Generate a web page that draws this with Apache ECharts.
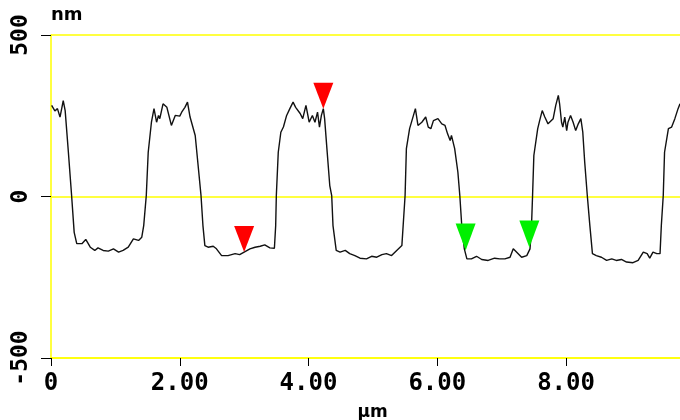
<!DOCTYPE html>
<html>
<head>
<meta charset="utf-8">
<script src="https://cdn.jsdelivr.net/npm/echarts@6/dist/echarts.min.js"></script>
<style>html,body{margin:0;padding:0;background:#fff}#c{width:680px;height:420px}</style>
</head>
<body>
<div id="c"></div>
<script>
// Profile position (µm) and height (nm)
const profileX = [0.01,0.06,0.10,0.14,0.17,0.19,0.22,0.27,0.32,0.36,0.40,0.48,0.54,0.61,0.68,0.73,0.81,0.89,0.97,1.05,1.12,1.20,1.28,1.36,1.41,1.44,1.48,1.51,1.56,1.60,1.64,1.67,1.69,1.74,1.80,1.87,1.93,2.00,
  2.03,2.08,2.12,2.16,2.19,2.24,2.29,2.33,2.36,2.39,2.44,2.52,2.57,2.65,2.75,2.86,2.93,3.00,3.09,3.17,3.25,3.32,3.40,3.47,3.49,3.50,3.53,3.57,3.61,3.66,3.71,3.76,3.80,3.87,3.91,3.96,
  4.01,4.06,4.10,4.14,4.17,4.20,4.23,4.25,4.29,4.33,4.36,4.38,4.43,4.49,4.57,4.64,4.72,4.80,4.90,4.98,5.06,5.14,5.21,5.29,5.37,5.45,5.47,5.50,5.52,5.57,5.63,5.66,5.70,5.76,5.82,5.86,5.90,5.94,
  6.01,6.07,6.12,6.16,6.20,6.22,6.27,6.32,6.35,6.38,6.42,6.46,6.53,6.61,6.69,6.79,6.89,6.97,7.05,7.13,7.18,7.23,7.31,7.39,7.44,7.46,7.48,7.50,7.56,7.59,7.63,7.67,7.72,7.80,7.84,7.88,7.90,7.93,7.95,7.98,
  8.01,8.03,8.07,8.11,8.15,8.19,8.23,8.26,8.29,8.33,8.37,8.41,8.47,8.55,8.63,8.71,8.78,8.86,8.94,9.04,9.12,9.20,9.26,9.30,9.35,9.41,9.46,9.48,9.51,9.53,9.59,9.64,9.69,9.74,9.77];
const profileY = [282,265,272,246,276,297,266,137,3,-111,-146,-146,-133,-157,-167,-159,-167,-169,-162,-172,-167,-157,-131,-136,-126,-90,3,137,230,272,230,251,241,287,276,220,251,249,
  261,276,292,246,241,189,86,3,-90,-152,-157,-154,-162,-183,-183,-177,-180,-172,-162,-157,-154,-150,-159,-160,-90,3,137,199,215,251,272,292,276,257,241,282,
  230,251,230,261,215,251,272,241,137,34,3,-90,-167,-172,-167,-177,-183,-191,-193,-185,-188,-180,-177,-183,-167,-152,-90,3,148,210,251,272,220,230,246,215,210,235,
  241,225,220,194,173,189,148,75,3,-90,-162,-193,-193,-185,-195,-198,-191,-193,-193,-188,-162,-172,-188,-183,-162,-111,3,127,210,235,266,246,225,241,282,313,287,230,215,246,
  204,230,251,230,204,225,241,199,106,3,-90,-177,-183,-188,-198,-193,-198,-195,-203,-205,-198,-172,-177,-191,-172,-177,-177,-90,3,137,210,215,241,272,287];
// Cursor markers
const redMarkers = [[3.00,-172],[4.23,272]];
const greenMarkers = [[6.44,-167],[7.43,-158]];
// Tick spacing
const xStep = 2;
const yStep = 500;

const data = profileX.map((x,i)=>[x,profileY[i]]);
const chart = echarts.init(document.getElementById('c'), null, {renderer:'canvas'});
const yellow = '#ffff00';
const lblFont = {fontFamily:'DejaVu Sans Mono', fontWeight:'bold', color:'#000'};
chart.setOption({
  animation:false,
  backgroundColor:'#fff',
  grid:{left:51, right:0, top:35, bottom:62, containLabel:false, outerBoundsMode:'none'},
  xAxis:{
    type:'value', min:0, max:9.77, interval:xStep,
    name:'μm', nameLocation:'middle', nameGap:46,
    nameTextStyle:{fontFamily:'DejaVu Sans', fontWeight:'bold', fontSize:17, color:'#000', padding:[0,0,0,14]},
    axisLine:{show:true, onZero:false, lineStyle:{color:yellow, width:1.5}},
    axisTick:{show:true, length:8, lineStyle:{color:'#000', width:1}},
    axisLabel:{margin:14, fontSize:24, showMaxLabel:false, ...lblFont,
      formatter:v=> v===0 ? '0' : (Math.abs(v/xStep - Math.round(v/xStep))<1e-6 ? v.toFixed(2) : '')},
    splitLine:{show:false}
  },
  yAxis:{
    type:'value', min:-500, max:500, interval:yStep,
    name:'nm', nameLocation:'end', nameGap:20,
    nameTextStyle:{fontFamily:'DejaVu Sans', fontWeight:'bold', fontSize:18, color:'#000', align:'left', verticalAlign:'middle'},
    axisLine:{show:true, onZero:false, lineStyle:{color:yellow, width:1.5}},
    axisTick:{show:true, length:10, lineStyle:{color:'#000', width:1}},
    axisLabel:{rotate:90, margin:18, fontSize:23, ...lblFont},
    splitLine:{show:true, lineStyle:{color:yellow, width:1.5}}
  },
  series:[
    {type:'line', data:data, symbol:'none', lineStyle:{color:'#111', width:1.4}, z:2},
    {type:'scatter', data:redMarkers, symbol:'triangle', symbolRotate:180, symbolSize:[20,26], symbolOffset:[0,'-50%'], itemStyle:{color:'#ff0000', opacity:1}, z:3},
    {type:'scatter', data:greenMarkers, symbol:'triangle', symbolRotate:180, symbolSize:[20,27], symbolOffset:[0,'-50%'], itemStyle:{color:'#00f000', opacity:1}, z:3}
  ]
});
</script>
</body>
</html>
